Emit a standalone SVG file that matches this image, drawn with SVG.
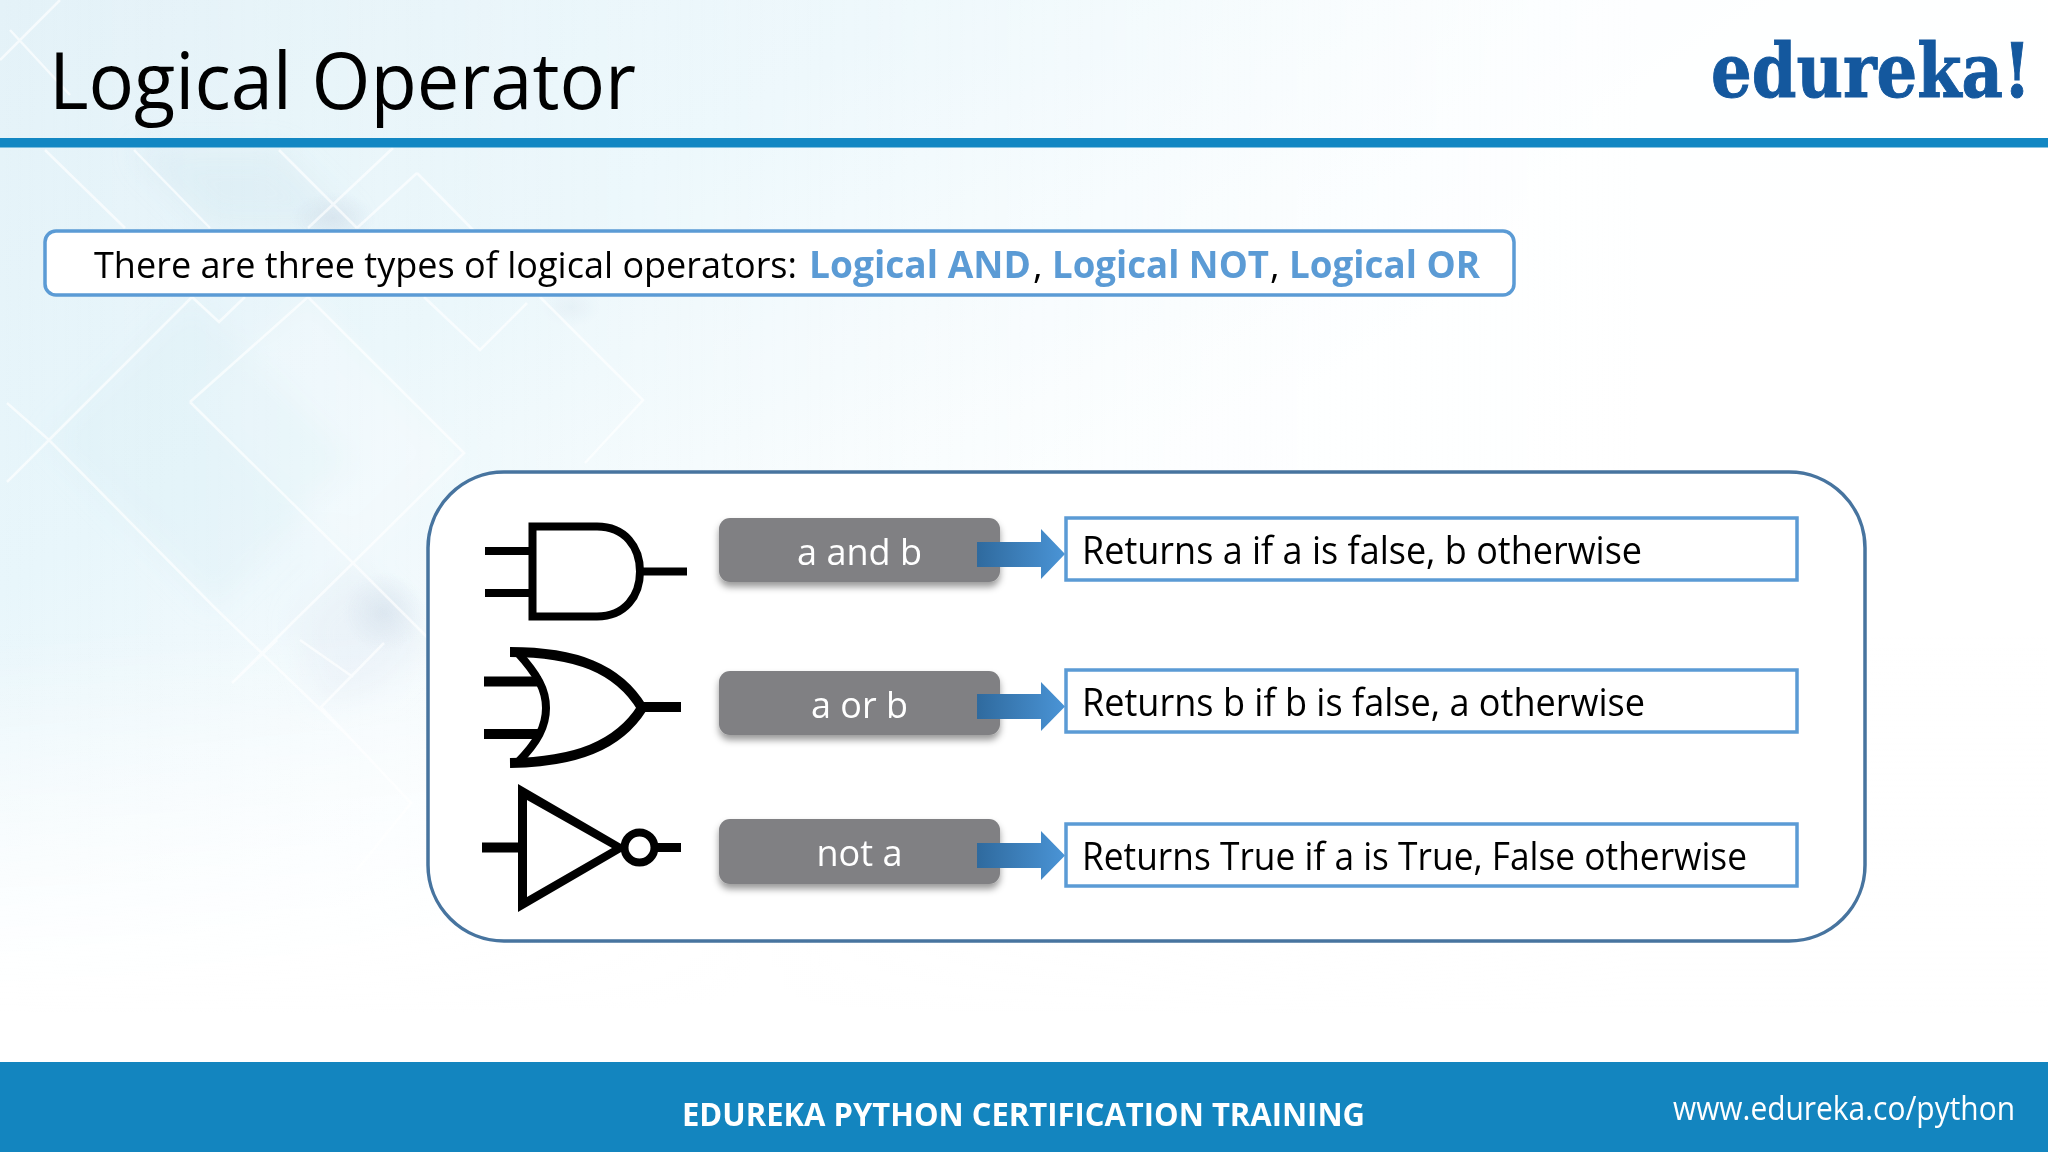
<svg xmlns="http://www.w3.org/2000/svg" width="2048" height="1152" viewBox="0 0 2048 1152">
<style>
text{font-family:"Open Sans","Noto Sans","Liberation Sans",sans-serif}
.ln{fill:none;stroke:#fff;stroke-width:2.5;opacity:.65}
.g{fill:none;stroke:#000;stroke-linejoin:miter}
.op{fill:#808083;filter:url(#sh)}
.opt{fill:#fff;font-size:37px;text-anchor:middle}
.res{fill:#fff;stroke:#5B9BD5;stroke-width:3.5}
.rest{fill:#000;font-size:38px}
.intro{font-size:37px;fill:#000}
.ib{font-size:37px;font-weight:700;fill:#5B9BD5}
.arr{fill:url(#ag)}
</style>
<defs>
<linearGradient id="bg" x1="0" y1="0" x2="0.85" y2="0.75"><stop offset="0" stop-color="#e4f2f8"/><stop offset=".3" stop-color="#e8f6fb"/><stop offset=".62" stop-color="#fcfeff"/><stop offset="1" stop-color="#fff"/></linearGradient>
<linearGradient id="fade" x1="0" y1="0" x2="0" y2="1"><stop offset="0" stop-color="#fff" stop-opacity="0"/><stop offset=".55" stop-color="#fff" stop-opacity="0"/><stop offset=".88" stop-color="#fff"/></linearGradient>
<linearGradient id="top" x1="0" y1="0" x2="1" y2="0"><stop offset="0" stop-color="#fff" stop-opacity="0"/><stop offset=".55" stop-color="#fff" stop-opacity=".5"/><stop offset=".8" stop-color="#fff"/></linearGradient>
<linearGradient id="ag" x1="0" y1="0" x2="1" y2="0"><stop offset="0" stop-color="#2F6A9E"/><stop offset="1" stop-color="#4A94D6"/></linearGradient>
<radialGradient id="sd"><stop offset="0" stop-color="#cbd9e6" stop-opacity=".6"/><stop offset="1" stop-color="#cbd9e6" stop-opacity="0"/></radialGradient>
<filter id="sh" x="-10%" y="-20%" width="120%" height="150%"><feDropShadow dx="0" dy="5" stdDeviation="3.5" flood-color="#000" flood-opacity=".4"/></filter>
<filter id="soft"><feGaussianBlur stdDeviation="14"/></filter>
</defs>
<g id="background">
<rect width="2048" height="1152" fill="url(#bg)"/>
<g filter="url(#soft)">
<polygon points="190,402 308,297 464,453 353,563" fill="#fff" opacity=".25"/>
<polygon points="134,150 279,150 357,228 210,228" fill="#cfe6ef" opacity=".4"/>
<polygon points="49,440 192,297 353,458 214,607" fill="#d7edf5" opacity=".3"/>
<polygon points="295,620 353,563 430,640 384,690 321,707" fill="#dfe9f3" opacity=".45"/>
</g>
<ellipse cx="333" cy="218" rx="42" ry="26" fill="url(#sd)"/>
<ellipse cx="384" cy="612" rx="42" ry="40" fill="url(#sd)"/>
<ellipse cx="571" cy="307" rx="30" ry="20" fill="url(#sd)" opacity=".5"/>
<path class="ln" d="M190 402 308 297 464 453 353 563 190 402M279 150 357 228M393 148 308 228M417 173 357 228M417 173 475 232M45 150 125 228M134 150 210 228M192 297 49 440 7 482M7 403 49 440 214 607 352 740M192 297 219 322 245 297M424 297 480 350 527 303M540 297 643 400 585 463M353 563 295 620 232 683M353 563 430 640M277 640 232 683M300 640 353 677M384 643 321 707 411 803 357 870M10 30 70 95M60 0 0 60"/>
<rect width="2048" height="1152" fill="url(#top)" opacity=".75"/>
<rect width="2048" height="1152" fill="url(#fade)"/>
</g>
<g id="header">
<text id="title" x="49" y="109" font-size="78" fill="#000" textLength="587" lengthAdjust="spacingAndGlyphs">Logical Operator</text>
<text id="logo" transform="translate(1711 97) scale(.853 1)" style="font-family:'DejaVu Serif','Liberation Serif',serif" font-weight="700" font-size="75" fill="#14589E" stroke="#14589E" stroke-width="1">edureka!</text>
<rect id="header-bar" x="0" y="138" width="2048" height="9.5" fill="#1287C3"/>
</g>
<g id="intro">
<rect x="45" y="231" width="1469" height="64" rx="11" fill="#fff" stroke="#5B9BD5" stroke-width="3.5"/>
<text class="intro" x="94" y="278" textLength="703" lengthAdjust="spacingAndGlyphs">There are three types of logical operators:</text>
<text class="ib" x="809" y="278" textLength="222" lengthAdjust="spacingAndGlyphs">Logical AND</text>
<text class="intro" x="1033" y="278">,</text>
<text class="ib" x="1052" y="278" textLength="217" lengthAdjust="spacingAndGlyphs">Logical NOT</text>
<text class="intro" x="1270" y="278">,</text>
<text class="ib" x="1289" y="278" textLength="191" lengthAdjust="spacingAndGlyphs">Logical OR</text>
</g>
<g id="panel"><rect x="428" y="472" width="1437" height="469" rx="76" fill="#fff" stroke="#47749F" stroke-width="3.5"/></g>
<g id="gate-and">
<path class="g" stroke-width="8" d="M532.5 526.5H597C625 526.5 640 547 640 571.5C640 596 625 616.5 597 616.5H532.5Z"/>
<path class="g" stroke-width="8" d="M485 551H530M485 593H530M643 571.5H687"/>
</g>
<g id="gate-or">
<path class="g" stroke-width="10" d="M510 652C575 652 618 668 642 708C618 746 575 762 510 763"/>
<path class="g" stroke-width="8" d="M517 652C538 675 546 690 546 708C546 726 538 742 517 763"/>
<path class="g" stroke-width="10" d="M484 681.5H541M484 734H541M644 707H681"/>
</g>
<g id="gate-not">
<path fill="#000" fill-rule="evenodd" d="M518 784V912L628 848ZM527 800V897L612 848Z"/>
<circle class="g" stroke-width="8" cx="639.5" cy="847.5" r="15"/>
<path class="g" stroke-width="10" d="M482 847.5H519"/>
<path class="g" stroke-width="9" d="M657 847.5H681"/>
</g>
<g id="op-and"><rect class="op" x="719" y="518" width="281" height="64" rx="11"/><text class="opt" x="859.5" y="565" textLength="125" lengthAdjust="spacingAndGlyphs">a and b</text></g>
<g id="op-or"><rect class="op" x="719" y="671" width="281" height="64" rx="11"/><text class="opt" x="859.5" y="718" textLength="97" lengthAdjust="spacingAndGlyphs">a or b</text></g>
<g id="op-not"><rect class="op" x="719" y="819" width="281" height="65" rx="11"/><text class="opt" x="859.5" y="866" textLength="86" lengthAdjust="spacingAndGlyphs">not a</text></g>
<g id="result-and"><rect class="res" x="1066" y="518" width="731" height="62"/><text class="rest" x="1082" y="564" textLength="560" lengthAdjust="spacingAndGlyphs">Returns a if a is false, b otherwise</text></g>
<g id="result-or"><rect class="res" x="1066" y="670" width="731" height="62"/><text class="rest" x="1082" y="716" textLength="563" lengthAdjust="spacingAndGlyphs">Returns b if b is false, a otherwise</text></g>
<g id="result-not"><rect class="res" x="1066" y="824" width="731" height="62"/><text class="rest" x="1082" y="870" textLength="665" lengthAdjust="spacingAndGlyphs">Returns True if a is True, False otherwise</text></g>
<g id="connectors">
<path class="arr" d="M977 542H1041V529L1065 554 1041 579V567H977Z"/>
<path class="arr" d="M977 694H1041V682L1065 706.5 1041 731V719H977Z"/>
<path class="arr" d="M977 843H1041V831L1065 855.5 1041 880V868H977Z"/>
</g>
<g id="footer">
<rect x="0" y="1062" width="2048" height="90" fill="#1385BF"/>
<text x="682" y="1126" font-size="33" font-weight="700" fill="#fff" textLength="683" lengthAdjust="spacingAndGlyphs">EDUREKA PYTHON CERTIFICATION TRAINING</text>
<text x="1673" y="1120" font-size="32" fill="#fff" textLength="342" lengthAdjust="spacingAndGlyphs">www.edureka.co/python</text>
</g>
</svg>
